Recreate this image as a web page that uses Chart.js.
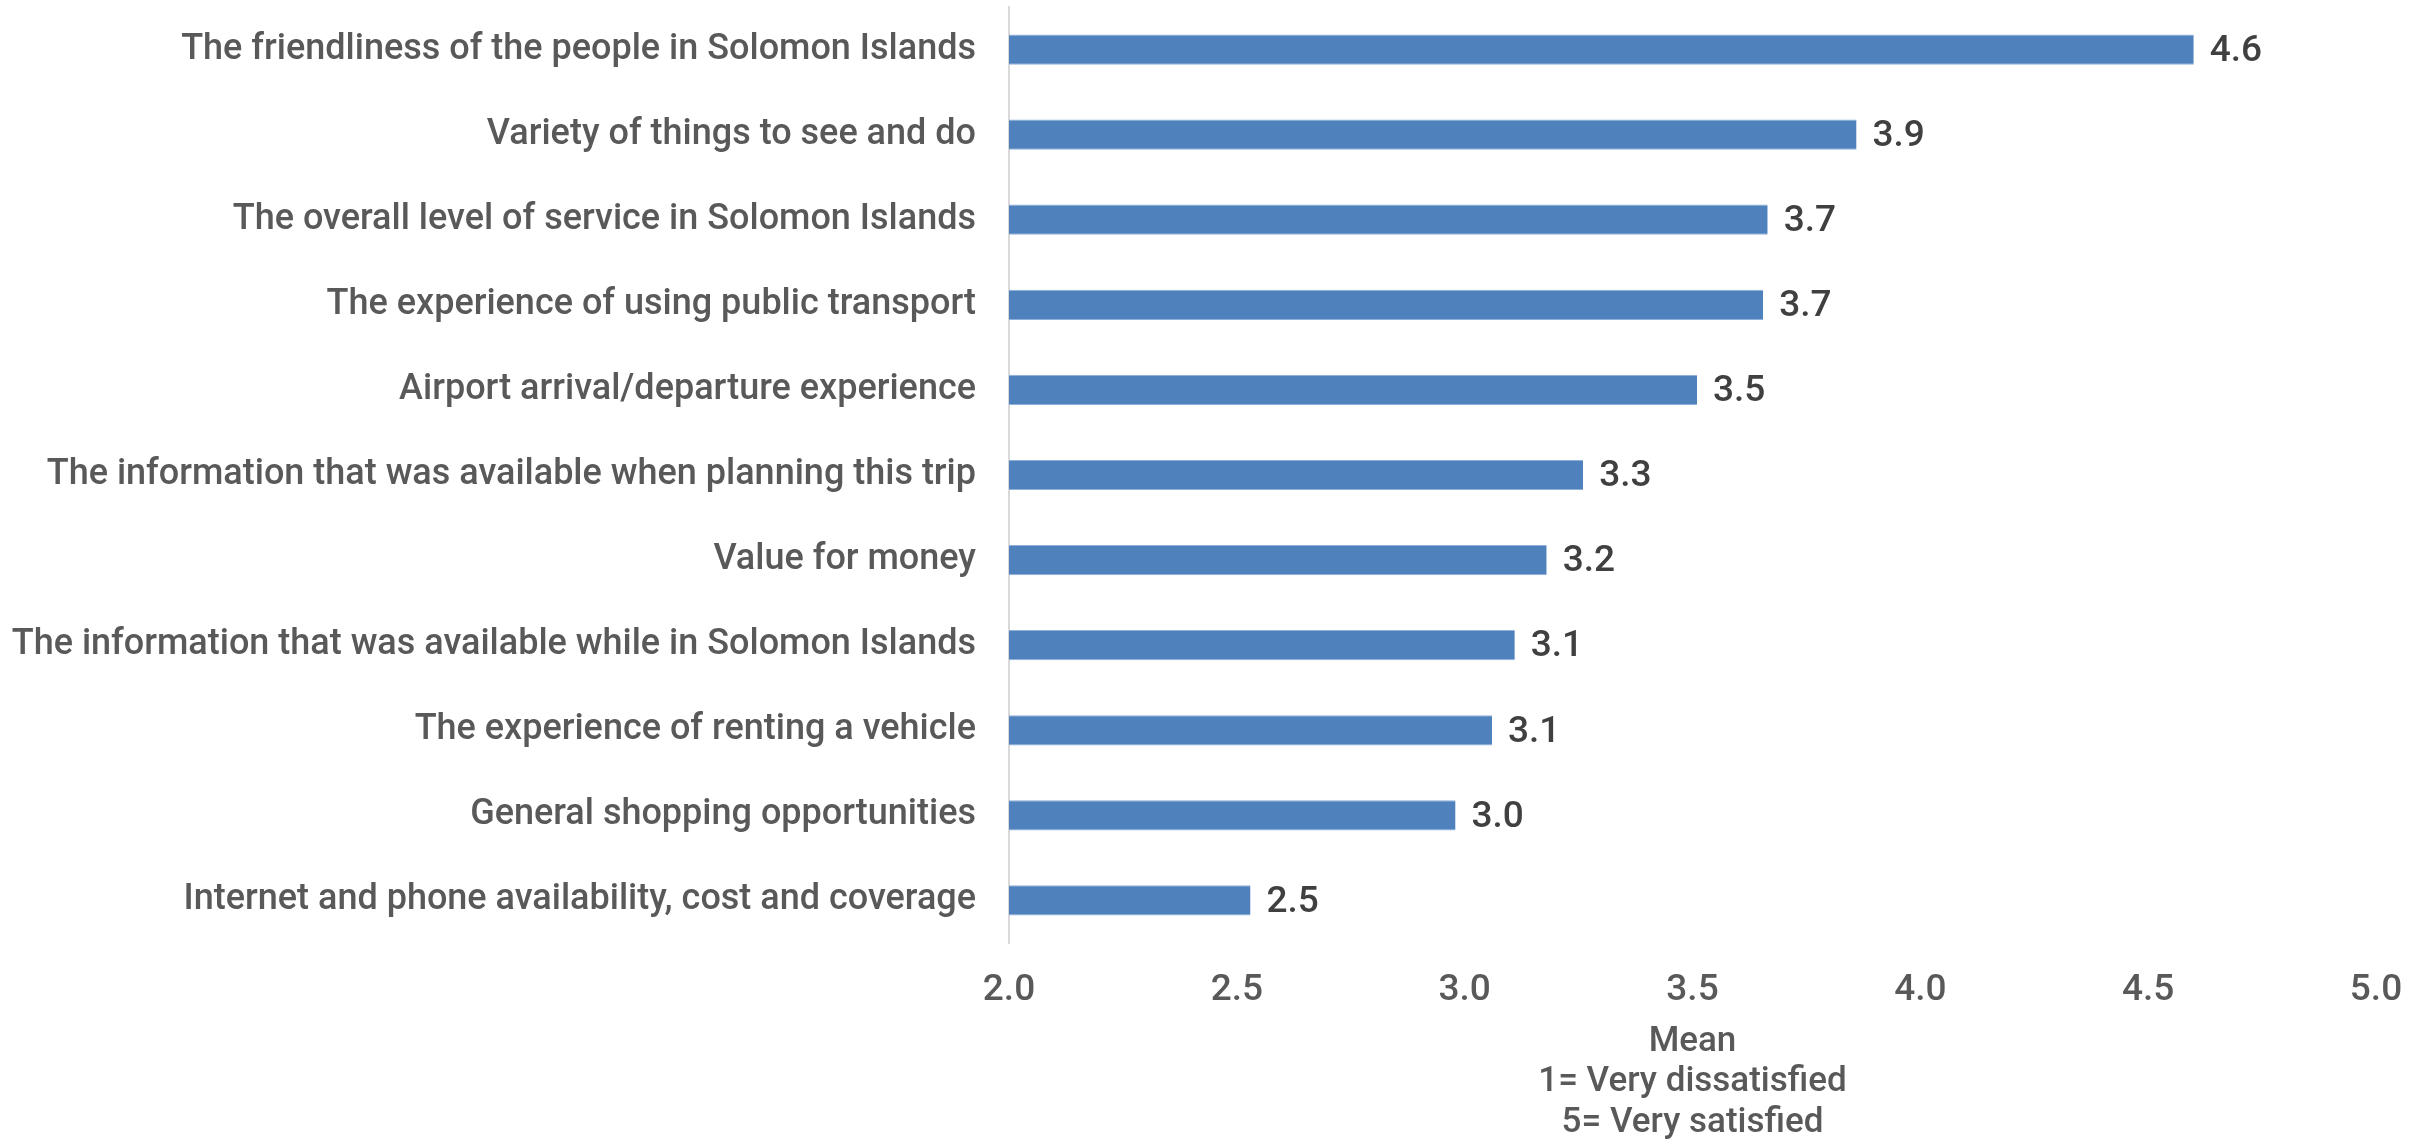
<!DOCTYPE html>
<html>
<head>
<meta charset="utf-8">
<script src="https://cdn.jsdelivr.net/npm/chart.js@4.4.1/dist/chart.umd.min.js"></script>
<style>
  html, body { margin: 0; padding: 0; background: #fff; }
  #wrap { width: 2435px; height: 1143px; }
</style>
</head>
<body>
<div id="wrap"><canvas id="satChart"></canvas></div>
<script>
// Categories (top to bottom) and mean scores
const categories = [
    'The friendliness of the people in Solomon Islands',
    'Variety of things to see and do',
    'The overall level of service in Solomon Islands',
    'The experience of using public transport',
    'Airport arrival/departure experience',
    'The information that was available when planning this trip',
    'Value for money',
    'The information that was available while in Solomon Islands',
    'The experience of renting a vehicle',
    'General shopping opportunities',
    'Internet and phone availability, cost and coverage'
];
const meanScores = [4.60, 3.86, 3.665, 3.655, 3.51, 3.26, 3.18, 3.11, 3.06, 2.98, 2.53];
const xTicks = [2.0, 2.5, 3.0, 3.5, 4.0, 4.5, 5.0];
const axisTitle = ['Mean', '1= Very dissatisfied', '5= Very satisfied'];

const FONT = "Roboto, 'Liberation Sans', Arial, sans-serif";

// draw value labels at the end of each bar
const barValueLabels = {
    id: 'barValueLabels',
    afterDatasetsDraw(chart) {
        const ctx = chart.ctx;
        const meta = chart.getDatasetMeta(0);
        ctx.save();
        ctx.font = '500 37px ' + FONT;
        ctx.fillStyle = '#404040';
        ctx.textAlign = 'left';
        ctx.textBaseline = 'middle';
        meta.data.forEach((bar, i) => {
            ctx.fillText(meanScores[i].toFixed(1), bar.x + 16, bar.y + 2);
        });
        ctx.restore();
    }
};

const ctx = document.getElementById('satChart').getContext('2d');
new Chart(ctx, {
    type: 'bar',
    data: {
        labels: categories,
        datasets: [{
            data: meanScores,
            backgroundColor: '#4F81BD',
            borderColor: '#8EB0DA',
            borderWidth: { top: 1, bottom: 1, left: 0, right: 0 },
            borderSkipped: false,
            categoryPercentage: 1,
            barPercentage: 0.355
        }]
    },
    options: {
        indexAxis: 'y',
        responsive: true,
        maintainAspectRatio: false,
        animation: false,
        layout: { padding: { top: 7, right: 59, bottom: 0, left: 0 } },
        plugins: {
            legend: { display: false },
            tooltip: { enabled: false }
        },
        scales: {
            x: {
                min: 2,
                max: 5,
                afterBuildTicks: axis => { axis.ticks = xTicks.map(v => ({ value: v })); },
                grid: { display: false, drawTicks: false },
                border: { display: false },
                ticks: {
                    color: '#595959',
                    font: { family: FONT, size: 37, weight: '500' },
                    padding: 26,
                    maxRotation: 0,
                    callback: v => Number(v).toFixed(1)
                },
                title: {
                    display: true,
                    text: axisTitle,
                    color: '#595959',
                    font: { family: FONT, size: 35, weight: '500', lineHeight: 1.15 },
                    padding: { top: 0, bottom: 0 }
                },
                afterFit: s => { s.height = 200; s.paddingLeft = 0; s.paddingRight = 0; }
            },
            y: {
                grid: { display: false, drawTicks: false },
                border: { display: true, color: '#D9D9D9', width: 2 },
                ticks: {
                    color: '#595959',
                    font: { family: FONT, size: 36, weight: '500' },
                    padding: 33
                },
                afterFit: s => { s.width = 1009; s.paddingTop = 0; s.paddingBottom = 0; }
            }
        }
    },
    plugins: [barValueLabels]
});
</script>
</body>
</html>
